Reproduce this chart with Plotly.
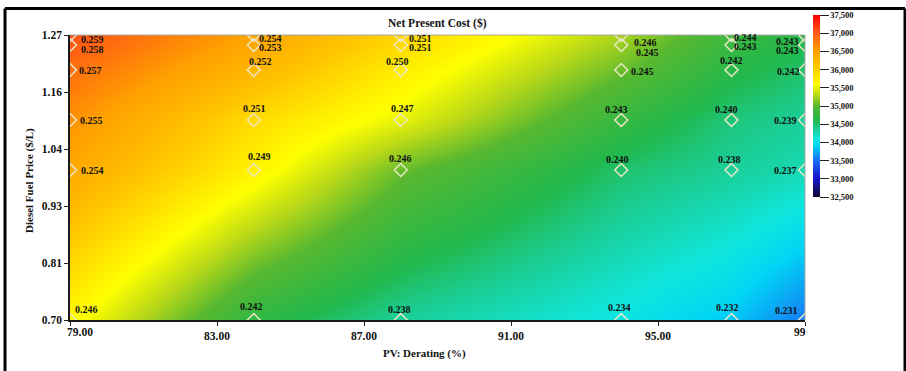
import plotly.graph_objects as go

# Sensitivity grid: PV derating (%) across, diesel fuel price ($/L) up
pv_derating = [79, 84, 88, 94, 97, 99]
fuel_price = [0.70, 1.00, 1.10, 1.20, 1.25, 1.27]

# Net present cost ($); rows follow fuel_price, columns follow pv_derating
npc = [
    [35650, 34700, 34350, 34050, 33850, 33550],
    [36400, 35700, 35050, 34500, 34350, 34250],
    [36600, 35900, 35500, 34750, 34450, 34350],
    [36850, 36250, 35750, 35050, 34650, 34500],
    [37000, 36400, 35900, 35200, 34750, 34580],
    [37050, 36450, 35950, 35250, 34800, 34620],
]

# Levelized cost of energy ($/kWh) at each simulated point
coe = [
    [0.246, 0.242, 0.238, 0.234, 0.232, 0.231],
    [0.254, 0.249, 0.246, 0.240, 0.238, 0.237],
    [0.255, 0.251, 0.247, 0.243, 0.240, 0.239],
    [0.257, 0.252, 0.250, 0.245, 0.242, 0.242],
    [0.258, 0.253, 0.251, 0.245, 0.243, 0.243],
    [0.259, 0.254, 0.251, 0.246, 0.244, 0.243],
]

x_tick_vals = [79, 83, 87, 91, 95, 99]
x_tick_text = ["79.00", "83.00", "87.00", "91.00", "95.00", "99"]
y_tick_vals = [0.70, 0.814, 0.928, 1.042, 1.156, 1.27]
y_tick_text = ["0.70", "0.81", "0.93", "1.04", "1.16", "1.27"]
npc_ticks = [32500, 33000, 33500, 34000, 34500, 35000,
             35500, 36000, 36500, 37000, 37500]

# Pixel offsets (dx right, dy down) of each value label from its point
label_offsets = [
    [(16, -11), (-2, -14), (-1, -11), (-2, -13), (-4, -13), (-19, -10)],
    [(22, 0), (6, -14), (0, -12), (-4, -11), (-2, -11), (-20, 0)],
    [(21, 0), (1, -12), (2, -12), (-5, -11), (-5, -11), (-20, 0)],
    [(20, 0), (7, -9), (-3, -9), (21, 1), (0, -10), (-17, 1)],
    [(22, 4), (17, 2), (20, 2), (26, 7), (14, 1), (-18, 5)],
    [(22, 4), (17, 3), (20, 3), (24, 7), (14, 2), (-18, 6)],
]

SERIF = "Liberation Serif"
INK = "#111111"
ZMIN, ZMAX = 32500, 37500

# Colour ramp: navy -> blue -> cyan -> green -> yellow -> orange -> red
ramp = [
    (32500, "#0c0a30"), (33000, "#1414c8"), (33500, "#1a6cf5"),
    (33900, "#00d5f5"), (34100, "#10e6dc"), (34400, "#1ccb8c"),
    (34600, "#22b84c"), (35000, "#58b830"), (35300, "#b8d818"),
    (35600, "#ffff00"), (36100, "#ffc400"), (36500, "#ffa000"),
    (37000, "#ff5a14"), (37500, "#ff0000"),
]
colorscale = [[(v - ZMIN) / (ZMAX - ZMIN), c] for v, c in ramp]

# Plot area in pixels
L, R, T, B = 70, 805, 35, 320
W, H = 906, 371
pw, ph = R - L, B - T


def px_x(p):
    return (p - L) / pw


def px_y(p):
    return (B - p) / ph


fig = go.Figure()

fig.add_trace(go.Heatmap(
    x=pv_derating, y=fuel_price, z=npc,
    zmin=ZMIN, zmax=ZMAX, zsmooth="best",
    colorscale=colorscale, hoverinfo="skip",
    colorbar=dict(
        thickness=7, len=182 / ph, lenmode="fraction",
        x=px_x(813), xanchor="left", xpad=0,
        y=px_y(106), yanchor="middle", ypad=0,
        tickvals=npc_ticks, tickformat=",",
        ticks="outside", ticklen=9, tickwidth=1, tickcolor="#222222",
        tickfont=dict(family=SERIF, size=8.5, color=INK, weight="bold"),
        outlinewidth=0,
    ),
))

px_list, py_list = [], []
for i, yv in enumerate(fuel_price):
    for j, xv in enumerate(pv_derating):
        px_list.append(xv)
        py_list.append(yv)

fig.add_trace(go.Scatter(
    x=px_list, y=py_list, mode="markers", cliponaxis=True,
    marker=dict(symbol="diamond-open", size=10, color="#ebe6c4",
                line=dict(width=1.5)),
    hoverinfo="skip", showlegend=False,
))

annotations = []
for i, yv in enumerate(fuel_price):
    for j, xv in enumerate(pv_derating):
        dx, dy = label_offsets[i][j]
        annotations.append(dict(
            x=xv, y=yv, xref="x", yref="y", text=f"{coe[i][j]:.3f}",
            showarrow=False, xshift=dx, yshift=-dy,
            xanchor="center", yanchor="middle",
            font=dict(family=SERIF, size=10, color=INK, weight="bold"),
        ))

# End labels of the x axis sit inside the plot edges
annotations.append(dict(
    x=x_tick_vals[0], y=fuel_price[0], xref="x", yref="y",
    text=x_tick_text[0], showarrow=False, xshift=10, yshift=-12,
    xanchor="center", yanchor="middle",
    font=dict(family=SERIF, size=11.5, color=INK, weight="bold"),
))
annotations.append(dict(
    x=x_tick_vals[-1], y=fuel_price[0], xref="x", yref="y",
    text=x_tick_text[-1], showarrow=False, xshift=-5, yshift=-12,
    xanchor="center", yanchor="middle",
    font=dict(family=SERIF, size=11.5, color=INK, weight="bold"),
))

annotations.append(dict(
    x=px_x(437), y=px_y(23), xref="paper", yref="paper",
    text="Net Present Cost ($)", showarrow=False,
    xanchor="center", yanchor="middle",
    font=dict(family=SERIF, size=11.5, color=INK, weight="bold"),
))
annotations.append(dict(
    x=px_x(424), y=px_y(353), xref="paper", yref="paper",
    text="PV: Derating (%)", showarrow=False,
    xanchor="center", yanchor="middle",
    font=dict(family=SERIF, size=11, color=INK, weight="bold"),
))
annotations.append(dict(
    x=px_x(29), y=px_y(181), xref="paper", yref="paper",
    text="Diesel Fuel Price ($/L)", showarrow=False, textangle=-90,
    xanchor="center", yanchor="middle",
    font=dict(family=SERIF, size=11, color=INK, weight="bold"),
))

border = dict(color="#000000", width=3)
shapes = [
    # light frame on the top and right edges of the plot
    dict(type="line", xref="paper", yref="paper", x0=0, x1=1, y0=1, y1=1,
         line=dict(color="#a8a8a8", width=1)),
    dict(type="line", xref="paper", yref="paper", x0=1, x1=1, y0=0, y1=1,
         line=dict(color="#a8a8a8", width=1)),
    # outer border of the figure (left, top, right)
    dict(type="line", xref="paper", yref="paper",
         x0=px_x(5), x1=px_x(5), y0=px_y(8.5), y1=px_y(H + 10), line=border),
    dict(type="line", xref="paper", yref="paper",
         x0=px_x(5), x1=px_x(905), y0=px_y(8.5), y1=px_y(8.5), line=border),
    dict(type="line", xref="paper", yref="paper",
         x0=px_x(905), x1=px_x(905), y0=px_y(8.5), y1=px_y(H + 10),
         line=border),
]

axis_font = dict(family=SERIF, size=11.5, color=INK, weight="bold")

fig.update_layout(
    template="none",
    width=W, height=H, autosize=False,
    margin=dict(l=L, r=W - R, t=T, b=H - B, pad=0),
    paper_bgcolor="white", plot_bgcolor="white",
    showlegend=False,
    annotations=annotations, shapes=shapes,
    xaxis=dict(
        range=[79, 99], tickvals=x_tick_vals,
        ticktext=[""] + x_tick_text[1:-1] + [""],
        ticks="outside", ticklen=4, tickwidth=1, tickcolor="#222222",
        showline=True, linecolor="#1a1a1a", linewidth=1.5,
        showgrid=False, zeroline=False, tickfont=axis_font, fixedrange=True,
    ),
    yaxis=dict(
        range=[0.70, 1.27], tickvals=y_tick_vals, ticktext=y_tick_text,
        ticks="outside", ticklen=4, tickwidth=1, tickcolor="#222222",
        showline=True, linecolor="#1a1a1a", linewidth=1.5,
        showgrid=False, zeroline=False, tickfont=axis_font, fixedrange=True,
    ),
)

fig.write_html("out.html")
